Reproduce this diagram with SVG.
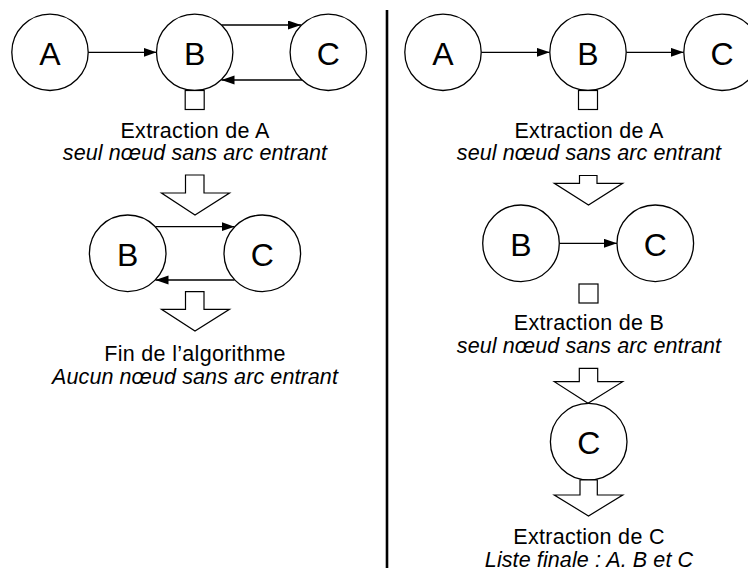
<svg xmlns="http://www.w3.org/2000/svg" width="748" height="571" viewBox="0 0 748 571">
<style>
.n circle{fill:#fff;stroke:#000;stroke-width:1.3}
.n text{font-family:"Liberation Sans",Arial,sans-serif;font-size:32px;text-anchor:middle;fill:#000}
.e{stroke:#000;stroke-width:1.3;fill:none;marker-end:url(#ah)}
.blk{fill:#fff;stroke:#000;stroke-width:1.2;stroke-linejoin:miter}
.sq{fill:#fff;stroke:#000;stroke-width:1.2}
.t{font-family:"Liberation Sans",Arial,sans-serif;font-size:21.5px;letter-spacing:0.3px;text-anchor:middle;fill:#000}
.i{font-style:italic;letter-spacing:0.1px}
</style>
<defs>
<marker id="ah" markerUnits="userSpaceOnUse" markerWidth="14" markerHeight="10" refX="13" refY="4.5" orient="auto">
<path d="M0,0 L13,4.5 L0,9 z" fill="#000"/>
</marker>
</defs>
<rect width="748" height="571" fill="#fff"/>
<line x1="387" y1="10" x2="387" y2="568" stroke="#000" stroke-width="2.6"/>

<g id="connectors">
<line class="e" x1="88" y1="52.3" x2="156.5" y2="52.3"/>
<line class="e" x1="221.5" y1="25" x2="301" y2="25"/>
<line class="e" x1="302" y1="80" x2="221.5" y2="80"/>
<line class="e" x1="155.5" y1="226.7" x2="234.5" y2="226.7"/>
<line class="e" x1="234.5" y1="280" x2="155.5" y2="280"/>
<line class="e" x1="481.3" y1="52.3" x2="549.7" y2="52.3"/>
<line class="e" x1="626.3" y1="52.3" x2="683.7" y2="52.3"/>
<line class="e" x1="559.3" y1="243.3" x2="617" y2="243.3"/>
</g>

<g id="left-A" class="n"><circle cx="50" cy="52.3" r="38.2"/><text x="50" y="64.5">A</text></g>
<g id="left-B" class="n"><circle cx="194.7" cy="52.3" r="38.2"/><text x="194.7" y="64.5">B</text></g>
<g id="left-C" class="n"><circle cx="328.3" cy="52.3" r="38.2"/><text x="328.3" y="64.5">C</text></g>
<rect class="sq" x="185.2" y="90.5" width="19" height="19"/>
<g id="left-text1">
<text class="t" x="195" y="137.5">Extraction de A</text>
<text class="t i" x="195" y="159.5">seul nœud sans arc entrant</text>
</g>
<polygon id="left-arrow1" class="blk" points="185.5,175 204,175 204,193 229.5,193 195,215 161.5,193 185.5,193"/>
<g id="left-B2" class="n"><circle cx="127.7" cy="253.3" r="38.3"/><text x="127.7" y="265.5">B</text></g>
<g id="left-C2" class="n"><circle cx="262.3" cy="253.3" r="38.3"/><text x="262.3" y="265.5">C</text></g>
<polygon id="left-arrow2" class="blk" points="185.5,291.7 204,291.7 204,309.3 229.5,309.3 195,331 161.5,309.3 185.5,309.3"/>
<g id="left-text2">
<text class="t" x="195" y="361">Fin de l’algorithme</text>
<text class="t i" x="195" y="383.5">Aucun nœud sans arc entrant</text>
</g>

<g id="right-A" class="n"><circle cx="443" cy="52.3" r="38.2"/><text x="443" y="64.5">A</text></g>
<g id="right-B" class="n"><circle cx="588" cy="52.3" r="38.2"/><text x="588" y="64.5">B</text></g>
<g id="right-C" class="n"><circle cx="722" cy="52.3" r="38.2"/><text x="722" y="64.5">C</text></g>
<rect class="sq" x="578.5" y="90.5" width="19" height="19"/>
<g id="right-text1">
<text class="t" x="589" y="137.5">Extraction de A</text>
<text class="t i" x="589" y="159.5">seul nœud sans arc entrant</text>
</g>
<polygon id="right-arrow1" class="blk" points="579.5,175.5 597,175.5 597,183.3 622.7,183.3 588.5,205 554.3,183.3 579.5,183.3"/>
<g id="right-B2" class="n"><circle cx="521" cy="243.3" r="38.3"/><text x="521" y="255.5">B</text></g>
<g id="right-C2" class="n"><circle cx="655.3" cy="243.3" r="38.3"/><text x="655.3" y="255.5">C</text></g>
<rect class="sq" x="579" y="284" width="19" height="19"/>
<g id="right-text2">
<text class="t" x="589" y="330">Extraction de B</text>
<text class="t i" x="589" y="352.5">seul nœud sans arc entrant</text>
</g>
<polygon id="right-arrow2" class="blk" points="579.3,368.3 597.7,368.3 597.7,381.7 622.7,381.7 588,403.3 554.3,381.7 579.3,381.7"/>
<g id="right-C3" class="n"><circle cx="588.7" cy="441.7" r="38.3"/><text x="588.7" y="453.9">C</text></g>
<polygon id="right-arrow3" class="blk" points="580,480 597.3,480 597.3,495 622.7,495 588.5,516 554.3,495 580,495"/>
<g id="right-text3">
<text class="t" x="589" y="544">Extraction de C</text>
<text class="t i" x="589" y="567">Liste finale : A. B et C</text>
</g>
</svg>
